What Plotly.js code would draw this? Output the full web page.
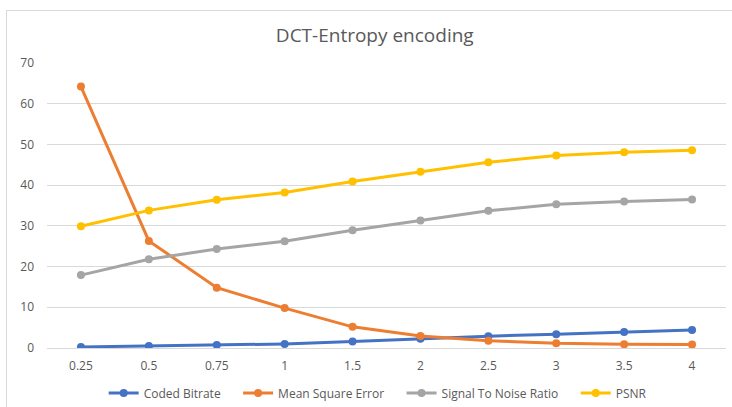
<!DOCTYPE html>
<html>
<head>
<meta charset="utf-8">
<script src="https://cdn.plot.ly/plotly-3.0.1.min.js"></script>
<style>
html,body{margin:0;padding:0;background:#fff;}
#chart{position:absolute;left:0;top:0;width:732px;height:407px;}
#frame{position:absolute;left:6px;top:10px;width:740px;height:410px;border:1px solid #d9d9d9;pointer-events:none;}
</style>
</head>
<body>
<div id="chart"></div>
<div id="frame"></div>
<script>
const categories = ["0.25","0.5","0.75","1","1.5","2","2.5","3","3.5","4"];
const seriesNames = ["Coded Bitrate","Mean Square Error","Signal To Noise Ratio","PSNR"];
const codedBitrate = [0.25,0.5,0.75,1.0,1.6,2.3,2.9,3.4,3.9,4.4];
const meanSquareError = [64.2,26.3,14.8,9.8,5.2,2.95,1.8,1.15,0.9,0.85];
const signalToNoise = [17.9,21.8,24.3,26.2,28.9,31.3,33.7,35.3,36.0,36.5];
const psnr = [29.9,33.8,36.4,38.2,40.9,43.3,45.6,47.3,48.1,48.6];

const pad = '\u00A0\u00A0\u00A0\u00A0';
function tr(name, y, color, last){
  return {x: categories, y: y, name: last ? name : name + pad, type: 'scatter', mode: 'lines+markers',
    line: {color: color, width: 3}, marker: {color: color, size: 8}};
}
const data = [
  tr(seriesNames[0], codedBitrate, '#4472C4'),
  tr(seriesNames[1], meanSquareError, '#ED7D31'),
  tr(seriesNames[2], signalToNoise, '#A5A5A5'),
  tr(seriesNames[3], psnr, '#FFC000', true)
];
const layout = {
  width: 732, height: 407,
  margin: {l: 47, r: 6, t: 63, b: 59, autoexpand: false},
  paper_bgcolor: '#fff', plot_bgcolor: '#fff',
  font: {family: '"Open Sans", "Noto Sans", sans-serif', color: '#595959', size: 12},
  title: {text: 'DCT-Entropy encoding', x: 0.512, xanchor: 'center', y: 0.913, yanchor: 'middle',
    font: {size: 19, color: '#595959'}},
  xaxis: {type: 'category', range: [-0.5, 9.5], showgrid: false, showline: false, ticks: '', zeroline: false,
    ticklabelstandoff: 9, tickfont: {size: 12, color: '#595959'}},
  yaxis: {range: [0, 70], dtick: 10, showgrid: true, gridcolor: '#d9d9d9', gridwidth: 1,
    zeroline: true, zerolinecolor: '#d9d9d9', zerolinewidth: 1, showline: false, ticks: '',
    ticklabelstandoff: 12, tickfont: {size: 12, color: '#595959'}},
  showlegend: true,
  legend: {orientation: 'h', x: 0.487, xanchor: 'center', y: -0.158, yanchor: 'middle',
    font: {size: 12, color: '#595959'}, itemwidth: 30, tracegroupgap: 0}
};
Plotly.newPlot('chart', data, layout, {displayModeBar: false, staticPlot: true});
</script>
</body>
</html>
